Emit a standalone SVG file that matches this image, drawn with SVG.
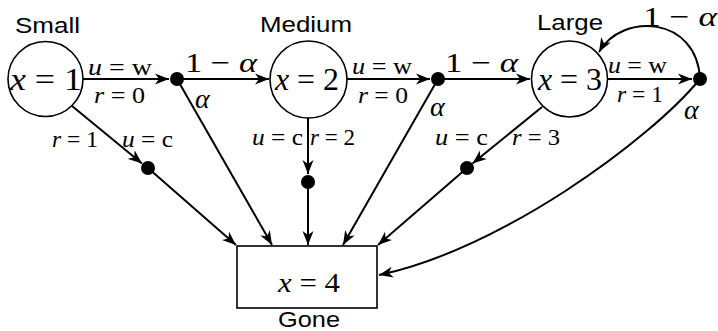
<svg xmlns="http://www.w3.org/2000/svg" width="718" height="331" viewBox="0 0 718 331">
<style>
.st{fill:#fff;stroke:#000;stroke-width:1.6}
.dot{fill:#000}
.e{fill:none;stroke:#000;stroke-width:2}
.m{font-family:"Liberation Serif","Times New Roman",serif;fill:#000}
.i{font-style:italic}
.s{font-family:"Liberation Sans",Arial,sans-serif;font-size:22px;fill:#000}
.lb{font-size:23px}
.nl{font-size:32px}
.al{font-size:28px}
</style>
<defs>
<marker id="ah" markerWidth="16" markerHeight="12" viewBox="-14 -6 16 12" refX="0" refY="0" orient="auto" markerUnits="userSpaceOnUse">
<path d="M0,0 L-14,-5.5 L-10,0 L-14,5.5 Z" fill="#000"/>
</marker>
</defs>
<rect width="718" height="331" fill="#fff"/>

<g id="connectors">
<line class="e" x1="83" y1="79" x2="169" y2="79" marker-end="url(#ah)"/>
<line class="e" x1="177" y1="79" x2="269" y2="79" marker-end="url(#ah)"/>
<line class="e" x1="347" y1="79" x2="430" y2="79" marker-end="url(#ah)"/>
<line class="e" x1="438" y1="79" x2="530" y2="79" marker-end="url(#ah)"/>
<line class="e" x1="608" y1="79" x2="692" y2="79" marker-end="url(#ah)"/>
<path class="e" d="M700,79 C697,16 622,12 599,52" marker-end="url(#ah)"/>
<path class="e" d="M700,79 C650,140 500,250 379,275" marker-end="url(#ah)"/>
<line class="e" x1="72" y1="106" x2="142" y2="163.5" marker-end="url(#ah)"/>
<line class="e" x1="148" y1="168" x2="236" y2="245" marker-end="url(#ah)"/>
<line class="e" x1="177" y1="79" x2="272" y2="245" marker-end="url(#ah)"/>
<line class="e" x1="308" y1="118" x2="308" y2="174" marker-end="url(#ah)"/>
<line class="e" x1="308" y1="182" x2="308" y2="245" marker-end="url(#ah)"/>
<line class="e" x1="438" y1="79" x2="343" y2="245" marker-end="url(#ah)"/>
<line class="e" x1="542" y1="107" x2="472.5" y2="163.5" marker-end="url(#ah)"/>
<line class="e" x1="467" y1="168" x2="378" y2="245" marker-end="url(#ah)"/>
</g>

<g id="edge-labels">
<text class="m lb" x="88" y="75" textLength="64" lengthAdjust="spacingAndGlyphs"><tspan class="i">u</tspan> = w</text>
<text class="m lb" x="94" y="103" textLength="51" lengthAdjust="spacingAndGlyphs"><tspan class="i">r</tspan> = 0</text>
<text class="m al" x="185" y="72" textLength="72" lengthAdjust="spacingAndGlyphs">1 − <tspan class="i">α</tspan></text>
<text class="m al i" x="195" y="108">α</text>
<text class="m lb" x="352" y="74" textLength="60" lengthAdjust="spacingAndGlyphs"><tspan class="i">u</tspan> = w</text>
<text class="m lb" x="358" y="103" textLength="50" lengthAdjust="spacingAndGlyphs"><tspan class="i">r</tspan> = 0</text>
<text class="m al" x="445" y="72" textLength="73" lengthAdjust="spacingAndGlyphs">1 − <tspan class="i">α</tspan></text>
<text class="m al i" x="430" y="116">α</text>
<text class="m lb" x="608" y="73" textLength="59" lengthAdjust="spacingAndGlyphs"><tspan class="i">u</tspan> = w</text>
<text class="m lb" x="617" y="102" textLength="46" lengthAdjust="spacingAndGlyphs"><tspan class="i">r</tspan> = 1</text>
<text class="m al" x="643" y="26" textLength="74" lengthAdjust="spacingAndGlyphs">1 − <tspan class="i">α</tspan></text>
<text class="m al i" x="684" y="119">α</text>
<text class="m lb" x="52" y="147" textLength="46" lengthAdjust="spacingAndGlyphs"><tspan class="i">r</tspan> = 1</text>
<text class="m lb" x="122" y="147" textLength="51" lengthAdjust="spacingAndGlyphs"><tspan class="i">u</tspan> = c</text>
<text class="m lb" x="252" y="145" textLength="51" lengthAdjust="spacingAndGlyphs"><tspan class="i">u</tspan> = c</text>
<text class="m lb" x="310" y="145" textLength="45" lengthAdjust="spacingAndGlyphs"><tspan class="i">r</tspan> = 2</text>
<text class="m lb" x="435" y="145" textLength="53" lengthAdjust="spacingAndGlyphs"><tspan class="i">u</tspan> = c</text>
<text class="m lb" x="512" y="145" textLength="48" lengthAdjust="spacingAndGlyphs"><tspan class="i">r</tspan> = 3</text>
</g>

<g id="node-x1">
<circle class="st" cx="45.5" cy="79" r="37.5"/>
<text class="m nl" x="10" y="90" textLength="72" lengthAdjust="spacingAndGlyphs"><tspan class="i">x</tspan> = 1</text>
<text class="s" x="15" y="33" textLength="65" lengthAdjust="spacingAndGlyphs">Small</text>
</g>
<g id="node-x2">
<circle class="st" cx="308.5" cy="79.5" r="38.5"/>
<text class="m nl" x="275" y="90" textLength="64" lengthAdjust="spacingAndGlyphs"><tspan class="i">x</tspan> = 2</text>
<text class="s" x="260" y="32" textLength="92" lengthAdjust="spacingAndGlyphs">Medium</text>
</g>
<g id="node-x3">
<circle class="st" cx="569.5" cy="79" r="38"/>
<text class="m nl" x="538" y="90" textLength="64" lengthAdjust="spacingAndGlyphs"><tspan class="i">x</tspan> = 3</text>
<text class="s" x="537" y="30" textLength="66" lengthAdjust="spacingAndGlyphs">Large</text>
</g>
<g id="node-x4">
<rect class="st" x="237" y="246" width="140" height="62"/>
<text class="m al" x="278" y="292" textLength="62" lengthAdjust="spacingAndGlyphs"><tspan class="i">x</tspan> = 4</text>
<text class="s" x="278" y="327" textLength="62" lengthAdjust="spacingAndGlyphs">Gone</text>
</g>
<g id="dot-1"><circle class="dot" cx="177" cy="79" r="7"/></g>
<g id="dot-2"><circle class="dot" cx="438" cy="79" r="7"/></g>
<g id="dot-3"><circle class="dot" cx="700" cy="79" r="7"/></g>
<g id="dot-1c"><circle class="dot" cx="148" cy="168" r="7"/></g>
<g id="dot-2c"><circle class="dot" cx="308" cy="182" r="7"/></g>
<g id="dot-3c"><circle class="dot" cx="467" cy="168" r="7"/></g>
</svg>
